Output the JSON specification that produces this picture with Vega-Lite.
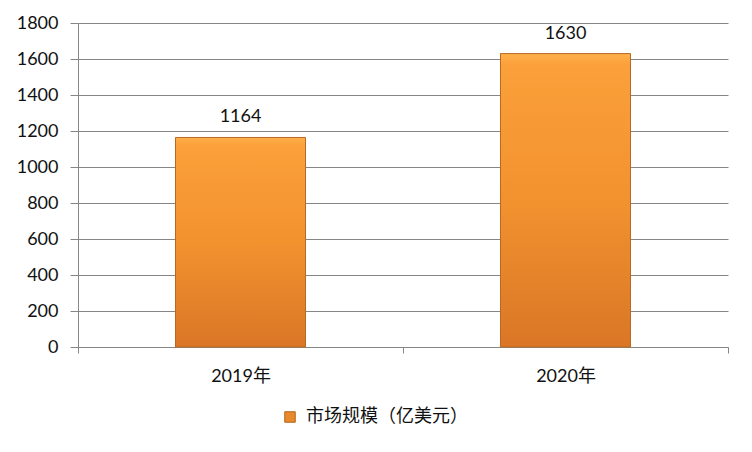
{
  "$schema": "https://vega.github.io/schema/vega-lite/v6.json",
  "width": 650,
  "height": 324,
  "autosize": {"type": "none"},
  "padding": {"left": 78, "top": 23, "right": 24, "bottom": 105},
  "background": "#ffffff",
  "config": {
    "view": {"stroke": null},
    "font": "Lato, Noto Sans CJK SC",
    "axis": {"labelFont": "Lato, Noto Sans CJK SC", "labelColor": "#111111", "labelFontSize": 18, "domainColor": "#868686", "tickColor": "#868686", "gridColor": "#868686", "gridOpacity": 1, "domainWidth": 1, "tickWidth": 1, "gridWidth": 1}
  },
  "data": {"values": [
    {"year": "2019年", "value": 1164, "series": "市场规模（亿美元）"},
    {"year": "2020年", "value": 1630, "series": "市场规模（亿美元）"}
  ]},
  "encoding": {
    "x": {"field": "year", "type": "nominal", "sort": null,
      "scale": {"paddingInner": 0, "paddingOuter": 0},
      "axis": {"title": null, "labelAngle": 0, "tickBand": "extent", "tickSize": 6, "labelPadding": 14, "grid": false}},
    "y": {"field": "value", "type": "quantitative",
      "scale": {"domain": [0, 1800], "nice": false},
      "axis": {"title": null, "format": "d", "values": [0, 200, 400, 600, 800, 1000, 1200, 1400, 1600, 1800], "tickSize": 8, "labelPadding": 12, "grid": true}}
  },
  "layer": [
    {
      "mark": {"type": "bar", "width": {"band": 0.4}},
      "encoding": {
        "color": {"field": "series", "type": "nominal",
          "scale": {"range": ["#E88A2C"]},
          "legend": {"title": null, "orient": "none", "legendX": 203, "legendY": 385, "symbolType": "square", "symbolSize": 110, "symbolStrokeColor": "#B5631C", "symbolStrokeWidth": 1, "labelFontSize": 18, "labelLimit": 400, "labelFont": "Noto Sans CJK SC", "labelColor": "#111111", "labelOffset": 7}}
      }
    },
    {
      "mark": {"type": "bar", "width": {"band": 0.4}, "stroke": "#B86A25", "strokeWidth": 1,
        "color": {"gradient": "linear", "x1": 0, "y1": 0, "x2": 0, "y2": 1,
          "stops": [
            {"offset": 0, "color": "#FFB04A"},
            {"offset": 0.04, "color": "#FBA03A"},
            {"offset": 0.5, "color": "#F2922F"},
            {"offset": 1, "color": "#DA7626"}
          ]}},
      "encoding": {}
    },
    {
      "mark": {"type": "text", "dy": -11, "fontSize": 18, "font": "Lato", "color": "#111111", "baseline": "bottom"},
      "encoding": {"text": {"field": "value", "type": "quantitative", "format": "d"}}
    }
  ]
}
